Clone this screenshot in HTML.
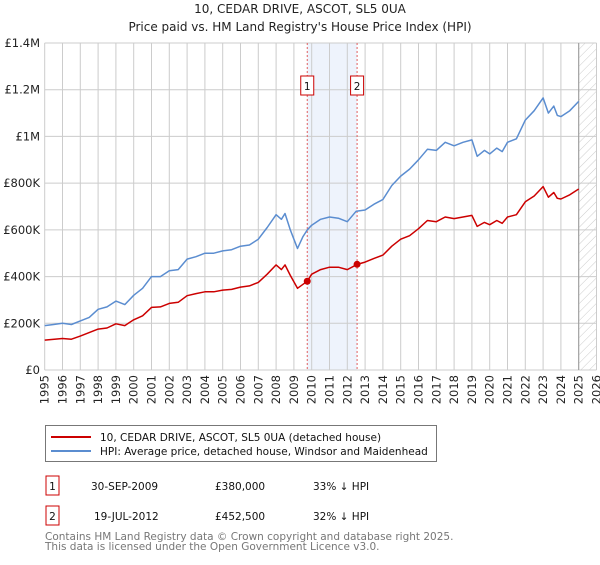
<!DOCTYPE html>
<html><head><meta charset="utf-8"><style>
body{margin:0;background:#fff;font-family:"Liberation Sans","DejaVu Sans",sans-serif;}
svg text{font-family:"DejaVu Sans","Liberation Sans",sans-serif;}
</style></head><body>
<svg id="c" width="600" height="560" xmlns="http://www.w3.org/2000/svg">
<defs><pattern id="hatch" width="6" height="6" patternUnits="userSpaceOnUse" patternTransform="rotate(45)"><line x1="0" y1="0" x2="0" y2="6" stroke="#ccc" stroke-width="1"/></pattern></defs>
<text x="300" y="13" text-anchor="middle" font-size="12" fill="#222">10, CEDAR DRIVE, ASCOT, SL5 0UA</text>
<text x="300" y="31" text-anchor="middle" font-size="12" fill="#222">Price paid vs. HM Land Registry's House Price Index (HPI)</text>
<g id="plot"></g>
<g>
<rect x="45.5" y="425.5" width="391" height="36" fill="#fff" stroke="#777"/>
<line x1="51" y1="437" x2="91" y2="437" stroke="#cc0000" stroke-width="2"/>
<text x="100" y="441" font-size="10.5" fill="#111">10, CEDAR DRIVE, ASCOT, SL5 0UA (detached house)</text>
<line x1="51" y1="451" x2="91" y2="451" stroke="#5b8dd0" stroke-width="2"/>
<text x="100" y="455" font-size="10.5" fill="#111">HPI: Average price, detached house, Windsor and Maidenhead</text>
</g>
<g font-size="10.5" fill="#111">
<rect x="46" y="476" width="13" height="19" fill="#fff" stroke="#cc0000"/>
<text x="52.5" y="490" text-anchor="middle">1</text>
<text x="91" y="490">30-SEP-2009</text><text x="215" y="490">£380,000</text><text x="313" y="490">33% ↓ HPI</text>
<rect x="46" y="506" width="13" height="19" fill="#fff" stroke="#cc0000"/>
<text x="52.5" y="520" text-anchor="middle">2</text>
<text x="94" y="520">19-JUL-2012</text><text x="215" y="520">£452,500</text><text x="313" y="520">32% ↓ HPI</text>
</g>
<text x="45" y="540" font-size="10.5" fill="#777">Contains HM Land Registry data © Crown copyright and database right 2025.</text>
<text x="45" y="550" font-size="10.5" fill="#777">This data is licensed under the Open Government Licence v3.0.</text>
</svg>
<script>
const years=[1995,1996,1997,1998,1999,2000,2001,2002,2003,2004,2005,2006,2007,2008,2009,2010,2011,2012,2013,2014,2015,2016,2017,2018,2019,2020,2021,2022,2023,2024,2025,2026];
const yTicks=[0,200000,400000,600000,800000,1000000,1200000,1400000];
const yTickLabels=["£0","£200K","£400K","£600K","£800K","£1M","£1.2M","£1.4M"];
const hpiT=[1995,1995.5,1996,1996.5,1997,1997.5,1998,1998.5,1999,1999.5,2000,2000.5,2001,2001.5,2002,2002.5,2003,2003.5,2004,2004.5,2005,2005.5,2006,2006.5,2007,2007.5,2008,2008.3,2008.5,2008.8,2009,2009.2,2009.5,2009.75,2010,2010.5,2011,2011.5,2012,2012.5,2013,2013.5,2014,2014.5,2015,2015.5,2016,2016.5,2017,2017.5,2018,2018.5,2019,2019.3,2019.7,2020,2020.4,2020.7,2021,2021.5,2022,2022.5,2023,2023.3,2023.6,2023.8,2024,2024.5,2025];
const hpiV=[190,195,200,195,210,225,260,270,295,280,320,350,400,400,425,430,475,485,500,500,510,515,530,535,560,610,665,645,670,600,560,520,570,600,620,645,655,650,635,680,685,710,730,790,830,860,900,945,940,975,960,975,985,915,940,925,950,935,975,990,1070,1110,1165,1100,1130,1090,1085,1110,1150];
const priceT=[1995,1996,1996.5,1997,1998,1998.5,1999,1999.5,2000,2000.5,2001,2001.5,2002,2002.5,2003,2003.5,2004,2004.5,2005,2005.5,2006,2006.5,2007,2007.5,2008,2008.3,2008.5,2008.8,2009.2,2009.75,2010,2010.5,2011,2011.5,2012,2012.55,2013,2013.5,2014,2014.5,2015,2015.5,2016,2016.5,2017,2017.5,2018,2018.5,2019,2019.3,2019.7,2020,2020.4,2020.7,2021,2021.5,2022,2022.5,2023,2023.3,2023.6,2023.8,2024,2024.5,2025];
const priceV=[128,135,132,145,175,180,198,190,215,232,268,270,285,290,318,327,335,335,342,345,355,360,375,410,450,430,450,405,350,380,410,430,440,440,430,452,462,478,492,530,560,575,605,640,635,655,648,655,662,615,632,622,640,628,655,665,720,745,785,740,760,735,732,750,775];
const salesT=[2009.75,2012.55];
const salesV=[380000,452500];
const salesLabel=["1","2"];
const X0=44.7,YW=17.8,Y0=370,YMAX=43;
const xs=t=>X0+(t-1995)*YW;
const ys=v=>Y0-(v/1400000)*(Y0-YMAX);
const NS="http://www.w3.org/2000/svg";
const g=document.getElementById('plot');
function mk(tag,attrs){const e=document.createElementNS(NS,tag);for(const k in attrs)e.setAttribute(k,attrs[k]);g.appendChild(e);return e;}
// shaded region
let sh=mk('rect',{x:xs(salesT[0]),y:YMAX,width:xs(salesT[1])-xs(salesT[0]),height:Y0-YMAX,fill:'#eef3fc'});


// grid
years.forEach(y=>{const l=mk('line',{x1:xs(y),x2:xs(y),y1:YMAX,y2:Y0,stroke:'#ccc','stroke-width':1});


const t=mk('text',{x:0,y:0,'font-size':11.5,fill:'#222','text-anchor':'end',transform:`translate(${xs(y)+4},${Y0+5}) rotate(-90)`});t.textContent=y;

});
yTicks.forEach((v,i)=>{const l=mk('line',{x1:X0,x2:xs(2026),y1:ys(v),y2:ys(v),stroke:'#ccc','stroke-width':1});


const t=mk('text',{x:40,y:ys(v)+4,'font-size':11.5,fill:'#222','text-anchor':'end'});t.textContent=yTickLabels[i];

});
// hatch future
let hr=mk('rect',{x:xs(2025),y:YMAX,width:xs(2026)-xs(2025),height:Y0-YMAX,fill:'url(#hatch)'});


let hl=mk('line',{x1:xs(2025),x2:xs(2025),y1:YMAX,y2:Y0,stroke:'#999'});


// sale vlines
salesT.forEach((t,i)=>{const l=mk('line',{x1:xs(t),x2:xs(t),y1:YMAX,y2:Y0,stroke:'#e06060','stroke-dasharray':'2,2'});


const r=mk('rect',{x:xs(t)-6.5,y:76,width:13,height:19,fill:'#fff',stroke:'#cc0000'});


const tx=mk('text',{x:xs(t),y:90,'font-size':10.5,'text-anchor':'middle',fill:'#111'});tx.textContent=salesLabel[i];

});
function line(T,V,color,name){const d=T.map((t,i)=>(i?'L':'M')+xs(t).toFixed(1)+','+ys(V[i]*1000).toFixed(1)).join('');
const p=mk('path',{d:d,fill:'none',stroke:color,'stroke-width':1.5,'stroke-linejoin':'round'});

}
line(hpiT,hpiV,'#5b8dd0','hpi-line');
line(priceT,priceV,'#cc0000','property-price-line');
salesT.forEach((t,i)=>{const c=mk('circle',{cx:xs(t),cy:ys(salesV[i]),r:3.5,fill:'#cc0000'});

});
</script>
</body></html>
